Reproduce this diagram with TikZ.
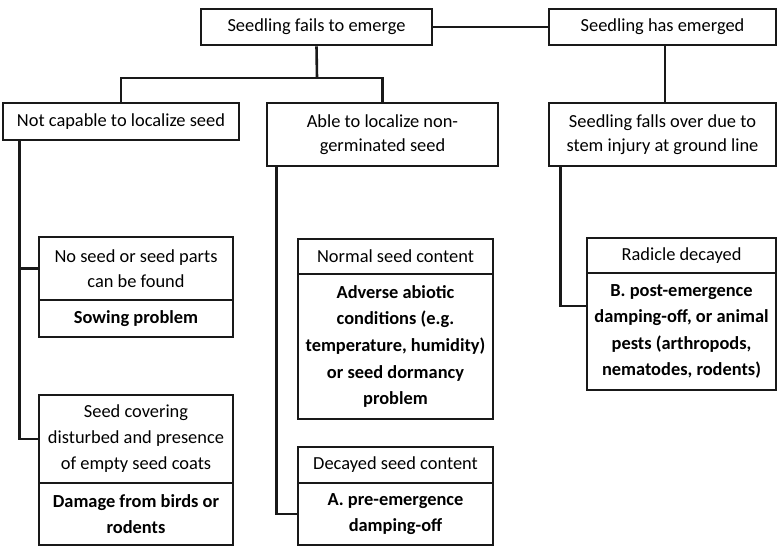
\documentclass[tikz,border=0pt]{standalone}
\usepackage{fontspec}
\setmainfont{Carlito}
\begin{document}
\begin{tikzpicture}[x=1pt,y=-1pt,
  box/.style={draw=black!90, line width=2.6pt, inner sep=2pt, align=center,
     font=\fontsize{18.4}{25}\selectfont},
  boldbox/.style={box, font=\fontsize{18.4}{26.6}\selectfont\bfseries},
  conn/.style={draw=black!90, line width=2.6pt}]
\useasboundingbox (0,0) rectangle (778,546);
\fill[white] (0,0) rectangle (778,546);
% top row
\node[box, minimum width=231pt, minimum height=36pt] (A) at (316.5,27) {Seedling fails to emerge};
\node[box, minimum width=227pt, minimum height=36pt] (B) at (662.5,27) {Seedling has emerged};
% second row
\node[box, minimum width=236pt, minimum height=37pt] (C) at (121,121.5) {Not capable to localize seed};
\node[box, minimum width=231pt, minimum height=63pt, font=\fontsize{18.4}{24}\selectfont] (D) at (382.5,134.5) {Able to localize non-\\germinated seed};
\node[box, minimum width=227pt, minimum height=63pt, font=\fontsize{18.4}{24}\selectfont] (E) at (662.5,134.5) {Seedling falls over due to\\stem injury at ground line};
% left column
\node[box, minimum width=194pt, minimum height=63pt] (Ft) at (136,268.5) {No seed or seed parts\\can be found};
\node[boldbox, minimum width=194pt, minimum height=37pt] (Fb) at (136,318.5) {Sowing problem};
\node[box, minimum width=194pt, minimum height=88pt, font=\fontsize{18.4}{26}\selectfont] (Gt) at (136,439) {Seed covering\\disturbed and presence\\of empty seed coats};
\node[boldbox, minimum width=194pt, minimum height=62pt] (Gb) at (136,514) {Damage from birds or\\rodents};
% middle column
\node[box, minimum width=195pt, minimum height=35pt] (Ht) at (395.5,256.5) {Normal seed content};
\node[boldbox, minimum width=195pt, minimum height=145pt] (Hb) at (395.5,346.5) {Adverse abiotic\\conditions (e.g.\\temperature, humidity)\\or seed dormancy\\problem};
\node[box, minimum width=195pt, minimum height=36pt] (It) at (395.5,465) {Decayed seed content};
\node[boldbox, minimum width=195pt, minimum height=62pt] (Ib) at (395.5,514) {A. pre-emergence\\damping-off};
% right column
\node[box, minimum width=189pt, minimum height=35pt] (Jt) at (681.5,255.5) {Radicle decayed};
\node[boldbox, minimum width=189pt, minimum height=117pt] (Jb) at (681.5,331.5) {B. post-emergence\\damping-off, or animal\\pests (arthropods,\\nematodes, rodents)};
% connectors
\draw[conn] (A.east) -- (B.west);
\coordinate (j1) at (317,78);
\draw[conn] (A.south) -- (j1);
\draw[conn] (C.north) |- (j1) -| (D.north);
\draw[conn] ([xshift=2.5pt]B.south) -- ([xshift=2.5pt]E.north);
\coordinate (t1) at ([xshift=18pt]C.south west);
\draw[conn] (t1) |- (Gt.west);
\draw[conn] (Ft.west) -- (Ft.west -| t1);
\coordinate (t2) at ([xshift=10.5pt]D.south west);
\draw[conn] (t2) |- (Ib.west);
\coordinate (t3) at ([xshift=12.5pt]E.south west);
\draw[conn] (t3) |- ([yshift=25.5pt]Jb.west);
\end{tikzpicture}
\end{document}
